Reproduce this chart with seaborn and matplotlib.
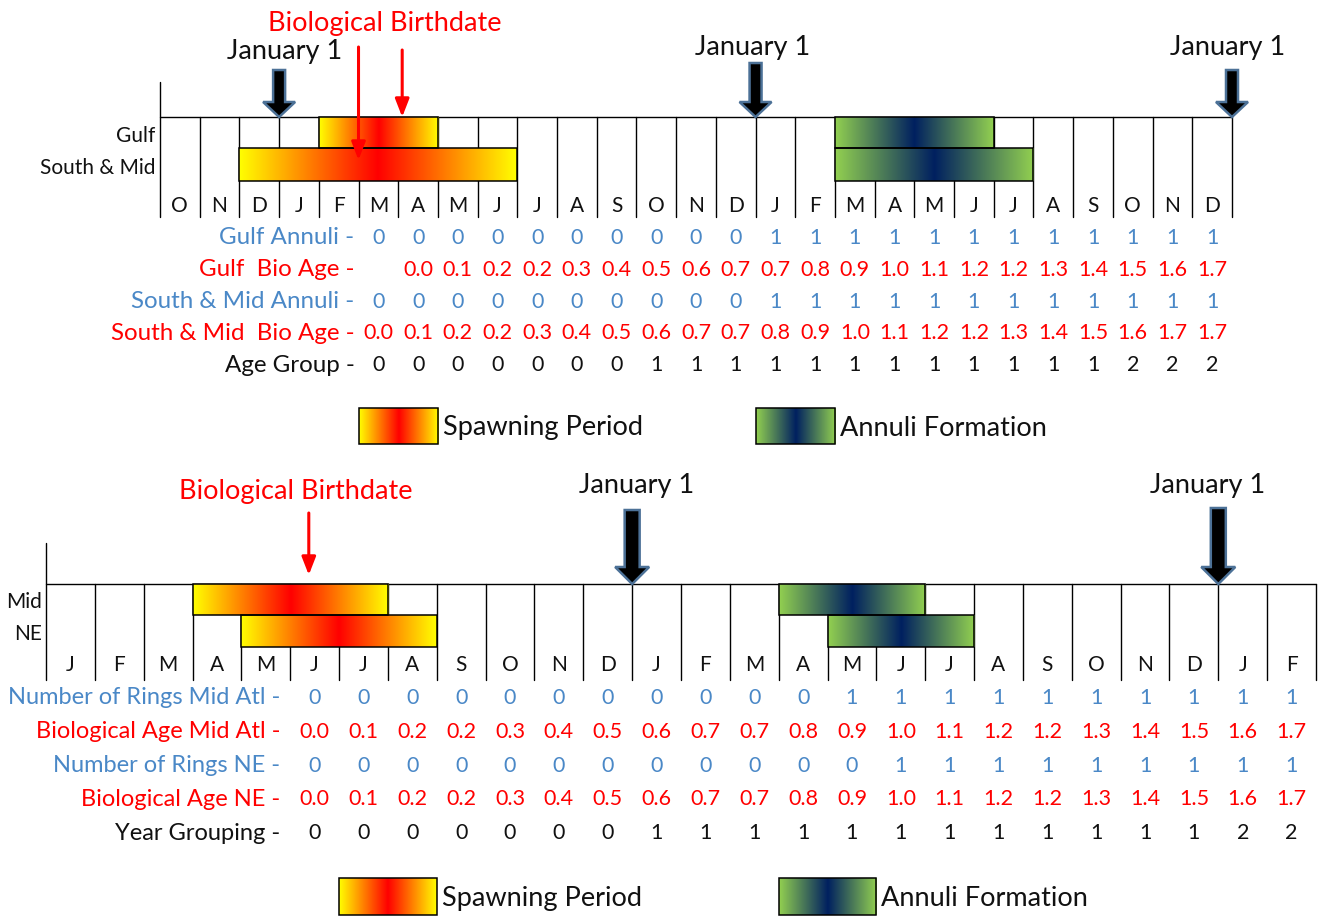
import numpy as np
import matplotlib
matplotlib.use("Agg")
import matplotlib.pyplot as plt
from matplotlib.patches import Rectangle, Polygon
from matplotlib.colors import LinearSegmentedColormap
import seaborn as sns

# ---------------- data ----------------
top_months = ["O", "N", "D", "J", "F", "M", "A", "M", "J", "J", "A", "S", "O", "N",
              "D", "J", "F", "M", "A", "M", "J", "J", "A", "S", "O", "N", "D"]
top_regions = ["Gulf", "South & Mid"]
top_spawn_start = [4, 2]
top_spawn_end = [7, 9]
top_annuli_start = [17, 17]
top_annuli_end = [21, 22]
top_jan1_cols = [3, 15, 27]
top_birth_cols = [5.0, 6.1]

top_row_labels = ["Gulf Annuli -", "Gulf  Bio Age -", "South & Mid Annuli -",
                  "South & Mid  Bio Age -", "Age Group -"]
top_row_start = [5, 6, 5, 5, 5]
gulf_annuli = ["0", "0", "0", "0", "0", "0", "0", "0", "0", "0", "1",
               "1", "1", "1", "1", "1", "1", "1", "1", "1", "1", "1"]
gulf_bio_age = ["0.0", "0.1", "0.2", "0.2", "0.3", "0.4", "0.5", "0.6", "0.7", "0.7", "0.8",
                "0.9", "1.0", "1.1", "1.2", "1.2", "1.3", "1.4", "1.5", "1.6", "1.7"]
sm_annuli = ["0", "0", "0", "0", "0", "0", "0", "0", "0", "0", "1",
             "1", "1", "1", "1", "1", "1", "1", "1", "1", "1", "1"]
sm_bio_age = ["0.0", "0.1", "0.2", "0.2", "0.3", "0.4", "0.5", "0.6", "0.7", "0.7", "0.8",
              "0.9", "1.0", "1.1", "1.2", "1.2", "1.3", "1.4", "1.5", "1.6", "1.7", "1.7"]
top_age_group = ["0", "0", "0", "0", "0", "0", "0", "1", "1", "1", "1",
                 "1", "1", "1", "1", "1", "1", "1", "1", "2", "2", "2"]

bot_months = ["J", "F", "M", "A", "M", "J", "J", "A", "S", "O", "N", "D", "J",
              "F", "M", "A", "M", "J", "J", "A", "S", "O", "N", "D", "J", "F"]
bot_regions = ["Mid", "NE"]
bot_spawn_start = [3, 4]
bot_spawn_end = [7, 8]
bot_annuli_start = [15, 16]
bot_annuli_end = [18, 19]
bot_jan1_cols = [12, 24]
bot_birth_cols = [5.38]

bot_row_labels = ["Number of Rings Mid Atl -", "Biological Age Mid Atl -",
                  "Number of Rings NE -", "Biological Age NE -", "Year Grouping -"]
bot_row_start = [5, 5, 5, 5, 5]
rings_mid = ["0", "0", "0", "0", "0", "0", "0", "0", "0", "0", "0",
             "1", "1", "1", "1", "1", "1", "1", "1", "1", "1"]
bio_age_mid = ["0.0", "0.1", "0.2", "0.2", "0.3", "0.4", "0.5", "0.6", "0.7", "0.7", "0.8",
               "0.9", "1.0", "1.1", "1.2", "1.2", "1.3", "1.4", "1.5", "1.6", "1.7"]
rings_ne = ["0", "0", "0", "0", "0", "0", "0", "0", "0", "0", "0",
            "0", "1", "1", "1", "1", "1", "1", "1", "1", "1"]
bio_age_ne = ["0.0", "0.1", "0.2", "0.2", "0.3", "0.4", "0.5", "0.6", "0.7", "0.7", "0.8",
              "0.9", "1.0", "1.1", "1.2", "1.2", "1.3", "1.4", "1.5", "1.6", "1.7"]
year_grouping = ["0", "0", "0", "0", "0", "0", "0", "1", "1", "1", "1",
                 "1", "1", "1", "1", "1", "1", "1", "1", "2", "2"]

legend_labels = ["Spawning Period", "Annuli Formation"]

# ---------------- style ----------------
sns.set_theme(style="white")
plt.rcParams["font.family"] = ["Lato", "DejaVu Sans"]

BLUE = "#4A88C7"
RED = "#FF0000"
BLACK = "#111111"
row_colors = [BLUE, RED, BLUE, RED, BLACK]

spawn_cmap = LinearSegmentedColormap.from_list("spawn", ["#FFFF00", "#FF0000", "#FFFF00"])
annuli_cmap = LinearSegmentedColormap.from_list("annuli", ["#92D050", "#002060", "#92D050"])

W, H = 1320, 916
fig = plt.figure(figsize=(W / 100, H / 100), dpi=100)
DY = 2  # small baseline nudge (px)


def make_panel(px_left, px_right, ncols):
    ax = fig.add_axes([0, 0, 1, 1])
    colw = (px_right - px_left) / ncols
    ax.set_xlim(-px_left / colw, (W - px_left) / colw)
    ax.set_ylim(H, 0)
    ax.axis("off")
    ax.patch.set_alpha(0)
    return ax, colw


def gradient_bar(ax, x0, x1, ytop, ybot, cmap):
    grad = np.linspace(0, 1, 256)[np.newaxis, :]
    ax.imshow(grad, cmap=cmap, extent=(x0, x1, ybot, ytop), aspect="auto",
              interpolation="bilinear", zorder=3)
    ax.add_patch(Rectangle((x0, ytop), x1 - x0, ybot - ytop, fill=False,
                           ec="black", lw=1.1, zorder=4))


def block_arrow(ax, x, ytop, ytip, colw, shaft_px, head_px, headlen_px):
    sw = shaft_px / 2 / colw
    hw = head_px / 2 / colw
    yh = ytip - headlen_px
    pts = [(x - sw, ytop), (x + sw, ytop), (x + sw, yh), (x + hw, yh), (x, ytip),
           (x - hw, yh), (x - sw, yh)]
    ax.add_patch(Polygon(pts, closed=True, fc="black", ec="#4C7197", lw=1.8,
                         joinstyle="miter", zorder=6))


def red_arrow(ax, x, ytop, ytip):
    ax.annotate("", xy=(x, ytip), xytext=(x, ytop),
                arrowprops=dict(arrowstyle="-|>,head_width=0.35,head_length=0.9",
                                color=RED, lw=2.2, shrinkA=0, shrinkB=0), zorder=7)


def draw_panel(ax, colw, months, regions, sp_s, sp_e, an_s, an_e, y_top, y_rows,
               y_axis_top, region_x_px, month_y, fs_month, fs_region):
    n = len(months)
    ytop, y1, y2, ybot = y_top, y_rows[0], y_rows[1], y_rows[2]
    lw = 1.0
    ax.plot([0, n], [ytop, ytop], color="black", lw=lw, zorder=2)
    ax.plot([0, 0], [y_axis_top, ybot], color="black", lw=lw, zorder=2)
    for c in range(1, n + 1):
        ax.plot([c, c], [ytop, ybot], color="black", lw=lw, zorder=2)
    for i, m in enumerate(months):
        ax.text(i + 0.5, month_y, m, ha="center", va="center",
                fontsize=fs_month, color=BLACK, zorder=5)
    bands = [(ytop, y1), (y1, y2)]
    for r, name in enumerate(regions):
        ax.text(-region_x_px / colw, sum(bands[r]) / 2 + 3, name, ha="right", va="center",
                fontsize=fs_region, color=BLACK)
        gradient_bar(ax, sp_s[r], sp_e[r], bands[r][0], bands[r][1], spawn_cmap)
        gradient_bar(ax, an_s[r], an_e[r], bands[r][0], bands[r][1], annuli_cmap)


def draw_table(ax, colw, labels, starts, rows, ys, label_px, fs_label, fs_val):
    for lab, st, vals, y, col in zip(labels, starts, rows, ys, row_colors):
        ax.text(starts[0] - label_px / colw, y + DY, lab, ha="right", va="center",
                fontsize=fs_label, color=col)
        for k, v in enumerate(vals):
            ax.text(st + k + 0.5, y + DY, v, ha="center", va="center", fontsize=fs_val,
                    color=col)


def draw_legend(ax, colw, sp_cols, an_cols, ytop, ybot, fs):
    for (c0, c1), cmap, lab in zip([sp_cols, an_cols], [spawn_cmap, annuli_cmap], legend_labels):
        gradient_bar(ax, c0, c1, ytop, ybot, cmap)
        ax.text(c1 + 5 / colw, (ytop + ybot) / 2 + 2, lab, ha="left", va="center",
                fontsize=fs, color=BLACK)


# ---------------- top panel ----------------
axt, cwt = make_panel(160, 1232, len(top_months))
draw_panel(axt, cwt, top_months, top_regions, top_spawn_start, top_spawn_end,
           top_annuli_start, top_annuli_end, 117, [148, 181, 217], 82, 5, 206, 15, 15)
draw_table(axt, cwt, top_row_labels, top_row_start,
           [gulf_annuli, gulf_bio_age, sm_annuli, sm_bio_age, top_age_group],
           [236, 268, 300, 331, 363], 4, 17.4, 15.5)
for c, yt, ty, tx in zip(top_jan1_cols, [70, 63, 70], [50, 46, 45], [5, -3, -4]):
    block_arrow(axt, c, yt, 117, cwt, 12, 32, 15)
    axt.text(c + tx / cwt, ty + 2, "January 1", ha="center", va="center", fontsize=19.5,
             color=BLACK)
red_arrow(axt, top_birth_cols[0], 47, 160)
red_arrow(axt, top_birth_cols[1], 50, 117)
axt.text(5.67, 24, "Biological Birthdate", ha="center", va="center", fontsize=19.5, color=RED)
draw_legend(axt, cwt, (5, 7), (15, 17), 408, 444, 19.5)

# ---------------- bottom panel ----------------
axb, cwb = make_panel(46, 1316, len(bot_months))
draw_panel(axb, cwb, bot_months, bot_regions, bot_spawn_start, bot_spawn_end,
           bot_annuli_start, bot_annuli_end, 584, [615, 647, 680], 543, 4, 665, 15, 15)
draw_table(axb, cwb, bot_row_labels, bot_row_start,
           [rings_mid, bio_age_mid, rings_ne, bio_age_ne, year_grouping],
           [696, 730, 764, 797, 831], 10, 17, 15.5)
for c, yt, tx in zip(bot_jan1_cols, [510, 508], [4, -11]):
    block_arrow(axb, c, yt, 584, cwb, 15, 34, 17)
    axb.text(c + tx / cwb, 485, "January 1", ha="center", va="center", fontsize=19.5,
             color=BLACK)
red_arrow(axb, bot_birth_cols[0], 513, 575)
axb.text(5.12, 492, "Biological Birthdate", ha="center", va="center", fontsize=19.5, color=RED)
draw_legend(axb, cwb, (6, 8), (15, 17), 878, 915, 19.5)

fig.savefig("out.png", dpi=100, facecolor="white")
